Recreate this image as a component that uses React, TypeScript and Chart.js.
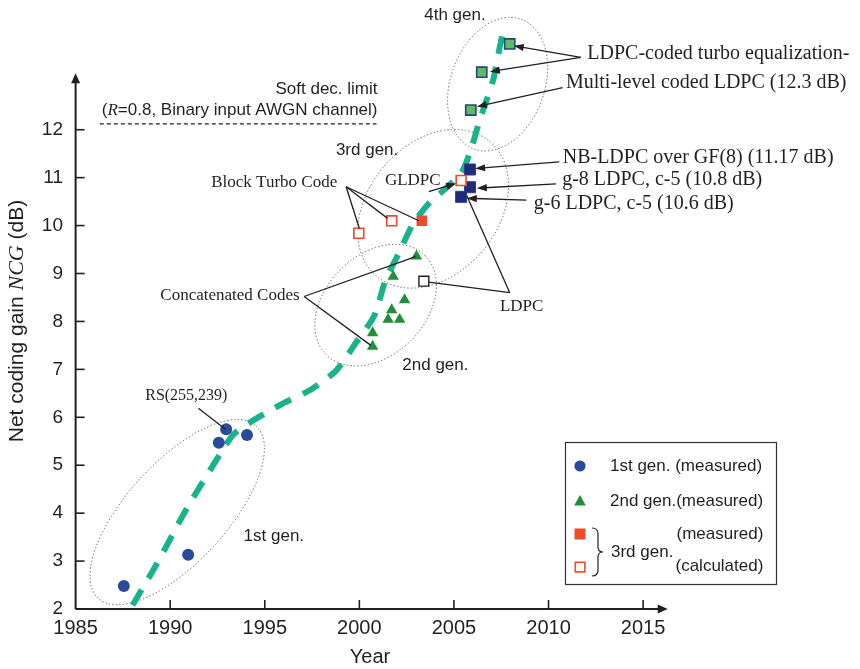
import React, { useEffect, useRef } from 'react';
import { Chart, registerables } from 'chart.js';

Chart.register(...registerables);

// ---------- data ----------
const xTicks = [1985, 1990, 1995, 2000, 2005, 2010, 2015];
const yTicks = [2, 3, 4, 5, 6, 7, 8, 9, 10, 11, 12];

const gen1Year = [1987.55, 1990.95, 1992.57, 1992.96, 1994.06];
const gen1NCG = [2.48, 3.13, 5.47, 5.75, 5.63];

const gen2Year = [2000.7, 2000.7, 2001.52, 2001.71, 2002.13, 2002.39, 2001.79, 2003.02];
const gen2NCG = [7.48, 7.76, 8.04, 8.24, 8.04, 8.45, 8.94, 9.36];

const gen3MeasYear = [2003.3];
const gen3MeasNCG = [10.1];

const gen3CalcYear = [1999.97, 2001.71, 2005.38];
const gen3CalcNCG = [9.84, 10.1, 10.94];

const ldpcCalcYear = [2003.41];
const ldpcCalcNCG = [8.84];

const ldpcYear = [2005.85, 2005.85, 2005.38];
const ldpcNCG = [11.17, 10.8, 10.6];

const gen4Year = [2007.95, 2006.47, 2005.89];
const gen4NCG = [13.79, 13.2, 12.41];

const trendYear = [1988.01, 1989.32, 1990.84, 1992.68, 1993.36, 1994.25, 1995.82, 1997.4, 1998.76, 1999.81, 2000.8, 2001.38, 2002.12, 2002.8, 2003.69, 2004.47, 2005.42, 2005.94, 2006.36, 2006.73, 2007.1, 2007.41, 2007.62];
const trendNCG = [2.08, 2.96, 4.07, 5.26, 5.65, 5.9, 6.26, 6.57, 6.97, 7.55, 8.13, 8.86, 9.45, 10.01, 10.47, 10.74, 11.12, 11.64, 12.2, 12.62, 13.08, 13.7, 14.08];

const softLimitNCG = 12.12;
const softLimitFrom = 1986.28;
const softLimitTo = 2000.91;

// ---------- styles ----------
const SANS = '"Liberation Sans", Arial, Helvetica, sans-serif';
const SERIF = '"Liberation Serif", "Times New Roman", serif';
const INK = '#231f20';
const BLUE = '#2a4a9c';
const GREEN = '#1f8e3d';
const RED = '#ee4a2b';
const NAVY = '#1f2a78';
const LIGHTGREEN = '#5fba62';
const TEAL = '#19b28b';

const sans17 = `17px ${SANS}`;
const serif17 = `17px ${SERIF}`;
const serif16 = `16px ${SERIF}`;
const serif20 = `20px ${SERIF}`;

const pts = (xs: number[], ys: number[]) => xs.map((x, i) => ({ x, y: ys[i] }));

// annotations (data coordinates)
const ellipses = [
  { center: [1990.37, 4.02], rx: 117, ry: 50, angle: -47.5 },
  { center: [2000.86, 8.34], rx: 70, ry: 50, angle: -45 },
  { center: [2003.9, 10.35], rx: 88, ry: 65, angle: -50 },
  { center: [2007.31, 12.95], rx: 69, ry: 47, angle: -70 },
];

const texts = [
  { text: 'Soft dec. limit', at: [2000.96, 12.84], align: 'right', font: sans17 },
  { text: '3rd gen.', at: [1998.76, 11.56], font: sans17 },
  { text: '4th gen.', at: [2003.43, 14.39], font: sans17 },
  { text: '2nd gen.', at: [2002.27, 7.09], font: sans17 },
  { text: '1st gen.', at: [1993.88, 3.51], font: sans17 },
  { text: 'Block Turbo Code', at: [1992.17, 10.89], font: serif17 },
  { text: 'GLDPC', at: [2001.35, 10.93], font: serif17 },
  { text: 'Concatenated Codes', at: [1989.48, 8.55], font: serif17 },
  { text: 'RS(255,239)', at: [1988.68, 6.44], font: serif16 },
  { text: 'LDPC', at: [2007.43, 8.31], font: serif17 },
  { text: 'NB-LDPC over GF(8) (11.17 dB)', at: [2010.75, 11.42], font: serif20 },
  { text: 'g-8 LDPC, c-5 (10.8 dB)', at: [2010.72, 10.95], font: serif20 },
  { text: 'g-6 LDPC, c-5 (10.6 dB)', at: [2009.22, 10.46], font: serif20 },
  { text: 'LDPC-coded turbo equalization-', at: [2012.05, 13.58], font: serif20 },
  { text: 'Multi-level coded LDPC (12.3 dB)', at: [2010.92, 12.98], font: serif20 },
];

const connectors = [
  { from: [1999.3, 10.81], to: [2000.0, 9.94], head: false },
  { from: [1999.3, 10.81], to: [2001.49, 10.15], head: false },
  { from: [1999.3, 10.81], to: [2003.15, 10.1], head: false },
  { from: [2003.67, 10.71], to: [2005.12, 10.88], head: true },
  { from: [1997.08, 8.52], to: [2002.97, 9.35], head: false },
  { from: [1997.08, 8.52], to: [2000.61, 7.5], head: false },
  { from: [1991.49, 6.19], to: [1992.92, 5.75], head: false },
  { from: [2007.95, 8.6], to: [2003.67, 8.82], head: false },
  { from: [2007.95, 8.6], to: [2005.68, 10.62], head: false },
  { from: [2010.57, 11.33], to: [2006.12, 11.19], head: true },
  { from: [2010.4, 10.87], to: [2006.21, 10.78], head: true },
  { from: [2008.83, 10.53], to: [2005.68, 10.57], head: true },
  { from: [2011.71, 13.51], to: [2008.16, 13.75], head: true },
  { from: [2011.71, 13.51], to: [2006.9, 13.21], head: true },
  { from: [2010.75, 12.88], to: [2006.21, 12.48], head: true },
];

const yAxisEnd = 13.18;
const xAxisEnd = 2016.3;

function drawParts(ctx: CanvasRenderingContext2D, parts: { t: string; f: string }[], x: number, y: number, align: 'left' | 'right' | 'center') {
  let total = 0;
  for (const p of parts) { ctx.font = p.f; total += ctx.measureText(p.t).width; }
  let cx = align === 'left' ? x : align === 'right' ? x - total : x - total / 2;
  ctx.textAlign = 'left';
  for (const p of parts) { ctx.font = p.f; ctx.fillText(p.t, cx, y); cx += ctx.measureText(p.t).width; }
}

function arrowLine(ctx: CanvasRenderingContext2D, x1: number, y1: number, x2: number, y2: number, head: boolean) {
  const a = Math.atan2(y2 - y1, x2 - x1);
  const L = 10, W = 3.6;
  const ex = head ? x2 - (L - 2) * Math.cos(a) : x2;
  const ey = head ? y2 - (L - 2) * Math.sin(a) : y2;
  ctx.beginPath(); ctx.moveTo(x1, y1); ctx.lineTo(ex, ey); ctx.stroke();
  if (head) {
    ctx.beginPath();
    ctx.moveTo(x2, y2);
    ctx.lineTo(x2 - L * Math.cos(a) + W * Math.sin(a), y2 - L * Math.sin(a) - W * Math.cos(a));
    ctx.lineTo(x2 - L * Math.cos(a) - W * Math.sin(a), y2 - L * Math.sin(a) + W * Math.cos(a));
    ctx.closePath(); ctx.fill();
  }
}

const decor = {
  id: 'decor',
  beforeDatasetsDraw(chart: any) {
    const ctx: CanvasRenderingContext2D = chart.ctx;
    const px = (v: number) => chart.scales.x.getPixelForValue(v);
    const py = (v: number) => chart.scales.y.getPixelForValue(v);
    ctx.save();
    // generation ellipses
    ctx.strokeStyle = '#5a5a5a'; ctx.lineWidth = 1; ctx.setLineDash([1.3, 2.2]);
    for (const e of ellipses) {
      ctx.beginPath();
      ctx.ellipse(px(e.center[0]), py(e.center[1]), e.rx, e.ry, (e.angle * Math.PI) / 180, 0, Math.PI * 2);
      ctx.stroke();
    }
    // soft decision limit
    ctx.strokeStyle = INK; ctx.lineWidth = 1.2; ctx.setLineDash([4, 3]);
    ctx.beginPath(); ctx.moveTo(px(softLimitFrom), py(softLimitNCG)); ctx.lineTo(px(softLimitTo), py(softLimitNCG)); ctx.stroke();
    ctx.setLineDash([]);
    // axes
    const x0 = px(xTicks[0]), y0 = py(yTicks[0]);
    const yTop = py(yAxisEnd), xEnd = px(xAxisEnd);
    ctx.strokeStyle = INK; ctx.fillStyle = INK; ctx.lineWidth = 2;
    ctx.beginPath(); ctx.moveTo(x0, y0); ctx.lineTo(x0, yTop + 8); ctx.stroke();
    ctx.beginPath(); ctx.moveTo(x0, y0); ctx.lineTo(xEnd - 8, y0); ctx.stroke();
    ctx.beginPath(); ctx.moveTo(x0, yTop); ctx.lineTo(x0 - 4.5, yTop + 10); ctx.lineTo(x0 + 4.5, yTop + 10); ctx.closePath(); ctx.fill();
    ctx.beginPath(); ctx.moveTo(xEnd, y0); ctx.lineTo(xEnd - 10, y0 - 4.5); ctx.lineTo(xEnd - 10, y0 + 4.5); ctx.closePath(); ctx.fill();
    ctx.lineWidth = 1.6;
    for (const t of yTicks) { const y = py(t); ctx.beginPath(); ctx.moveTo(x0, y); ctx.lineTo(x0 + 9, y); ctx.stroke(); }
    for (const t of xTicks.slice(1)) { const x = px(t); ctx.beginPath(); ctx.moveTo(x, y0); ctx.lineTo(x, y0 - 9); ctx.stroke(); }
    ctx.restore();
  },
  afterDatasetsDraw(chart: any) {
    const ctx: CanvasRenderingContext2D = chart.ctx;
    const px = (v: number) => chart.scales.x.getPixelForValue(v);
    const py = (v: number) => chart.scales.y.getPixelForValue(v);
    ctx.save();
    ctx.fillStyle = INK; ctx.strokeStyle = INK; ctx.textBaseline = 'middle';
    // connectors
    ctx.lineWidth = 1.3;
    for (const c of connectors) arrowLine(ctx, px(c.from[0]), py(c.from[1]), px(c.to[0]), py(c.to[1]), c.head);
    // labels
    for (const t of texts) {
      ctx.font = t.font; ctx.textAlign = (t.align as CanvasTextAlign) || 'left';
      ctx.fillText(t.text, px(t.at[0]), py(t.at[1]));
    }
    drawParts(ctx, [
      { t: '(', f: sans17 },
      { t: 'R', f: `italic 17px ${SERIF}` },
      { t: '=0.8, Binary input AWGN channel)', f: sans17 },
    ], px(2000.96), py(12.41), 'right');

    // axis titles
    ctx.font = `20px ${SANS}`; ctx.textAlign = 'center';
    ctx.fillText('Year', 370, 657);
    ctx.save();
    ctx.translate(17, 321); ctx.rotate(-Math.PI / 2);
    drawParts(ctx, [
      { t: 'Net coding gain ', f: `21px ${SANS}` },
      { t: 'NCG', f: `italic 22px ${SERIF}` },
      { t: ' (dB)', f: `21px ${SANS}` },
    ], 0, 0, 'center');
    ctx.restore();

    // legend
    ctx.lineWidth = 1.2; ctx.strokeStyle = '#333';
    ctx.strokeRect(565.5, 442.5, 211, 142);
    ctx.fillStyle = BLUE; ctx.beginPath(); ctx.arc(580, 466, 5.6, 0, Math.PI * 2); ctx.fill();
    ctx.fillStyle = GREEN; ctx.beginPath(); ctx.moveTo(580, 495); ctx.lineTo(585.8, 505.5); ctx.lineTo(574.2, 505.5); ctx.closePath(); ctx.fill();
    ctx.fillStyle = RED; ctx.fillRect(574.5, 528.5, 11, 11);
    ctx.strokeStyle = RED; ctx.lineWidth = 1.6; ctx.fillStyle = '#fff';
    ctx.fillRect(575.3, 562.3, 9.6, 9.6); ctx.strokeRect(575.3, 562.3, 9.6, 9.6);
    ctx.fillStyle = INK; ctx.font = sans17; ctx.textAlign = 'left';
    ctx.fillText('1st gen. (measured)', 610, 466);
    ctx.fillText('2nd gen.(measured)', 610, 501.5);
    ctx.fillText('(measured)', 676.5, 534);
    ctx.fillText('(calculated)', 675.5, 566);
    ctx.fillText('3rd gen.', 611, 552);
    // brace
    ctx.strokeStyle = INK; ctx.lineWidth = 1.2;
    ctx.beginPath();
    ctx.moveTo(592, 528);
    ctx.quadraticCurveTo(598, 528, 598, 534);
    ctx.lineTo(598, 547);
    ctx.quadraticCurveTo(598, 552, 603, 552);
    ctx.quadraticCurveTo(598, 552, 598, 557);
    ctx.lineTo(598, 570);
    ctx.quadraticCurveTo(598, 576, 592, 576);
    ctx.stroke();
    ctx.restore();
  },
};

export default function App() {
  const ref = useRef<HTMLCanvasElement | null>(null);
  useEffect(() => {
    if (!ref.current) return;
    const chart = new Chart(ref.current, {
      type: 'scatter',
      data: {
        datasets: [
          {
            type: 'line', label: 'trend', data: pts(trendYear, trendNCG), showLine: true,
            borderColor: TEAL, borderWidth: 6, borderDash: [18, 13], pointRadius: 0, tension: 0.25, order: 10,
          } as any,
          { label: '1st gen. (measured)', data: pts(gen1Year, gen1NCG), pointStyle: 'circle', pointRadius: 6, backgroundColor: BLUE, borderColor: BLUE, borderWidth: 0, order: 1 },
          { label: '2nd gen. (measured)', data: pts(gen2Year, gen2NCG), pointStyle: 'triangle', pointRadius: 6.6, backgroundColor: GREEN, borderColor: GREEN, borderWidth: 0, order: 1 },
          { label: '3rd gen. (measured)', data: pts(gen3MeasYear, gen3MeasNCG), pointStyle: 'rect', pointRadius: 7.4, backgroundColor: RED, borderColor: RED, borderWidth: 0, order: 1 },
          { label: '3rd gen. (calculated)', data: pts(gen3CalcYear, gen3CalcNCG), pointStyle: 'rect', pointRadius: 7, backgroundColor: '#ffffff', borderColor: RED, borderWidth: 1.6, order: 1 },
          { label: 'LDPC (calculated)', data: pts(ldpcCalcYear, ldpcCalcNCG), pointStyle: 'rect', pointRadius: 7, backgroundColor: '#ffffff', borderColor: INK, borderWidth: 1.4, order: 1 },
          { label: 'LDPC', data: pts(ldpcYear, ldpcNCG), pointStyle: 'rect', pointRadius: 7.8, backgroundColor: NAVY, borderColor: '#2c3f94', borderWidth: 1, order: 1 },
          { label: '4th gen.', data: pts(gen4Year, gen4NCG), pointStyle: 'rect', pointRadius: 7.2, backgroundColor: LIGHTGREEN, borderColor: '#24457e', borderWidth: 1.6, order: 1 },
        ],
      },
      options: {
        animation: false,
        responsive: false,
        events: [],
        layout: { padding: { top: 9.9, right: 2.5, bottom: 0, left: 0 } },
        plugins: { legend: { display: false }, tooltip: { enabled: false } },
        scales: {
          x: {
            type: 'linear', min: 1985, max: 2026,
            grid: { display: false, drawTicks: false }, border: { display: false },
            afterBuildTicks: (s: any) => { s.ticks = xTicks.map((v) => ({ value: v })); },
            afterFit: (s: any) => { s.height = 60; s.paddingLeft = 0; s.paddingRight = 0; s.paddingTop = 0; s.paddingBottom = 0; },
            ticks: { font: { family: SANS, size: 20 }, color: INK, padding: 7, maxRotation: 0, autoSkip: false, callback: (v: any) => String(v) },
          },
          y: {
            type: 'linear', min: 2, max: 14.5,
            grid: { display: false, drawTicks: false }, border: { display: false },
            afterBuildTicks: (s: any) => { s.ticks = yTicks.map((v) => ({ value: v })); },
            afterFit: (s: any) => { s.width = 75.6; s.paddingLeft = 0; s.paddingRight = 0; s.paddingTop = 0; s.paddingBottom = 0; },
            ticks: { font: { family: SANS, size: 19 }, color: INK, padding: 12.6, autoSkip: false, callback: (v: any) => String(v) },
          },
        },
      },
      plugins: [decor],
    });
    return () => chart.destroy();
  }, []);
  return (
    <div style={{ position: 'fixed', left: 0, top: 0, width: 860, height: 669, background: '#fff' }}>
      <canvas ref={ref} width={860} height={669} style={{ display: 'block', width: 860, height: 669 }} />
    </div>
  );
}
